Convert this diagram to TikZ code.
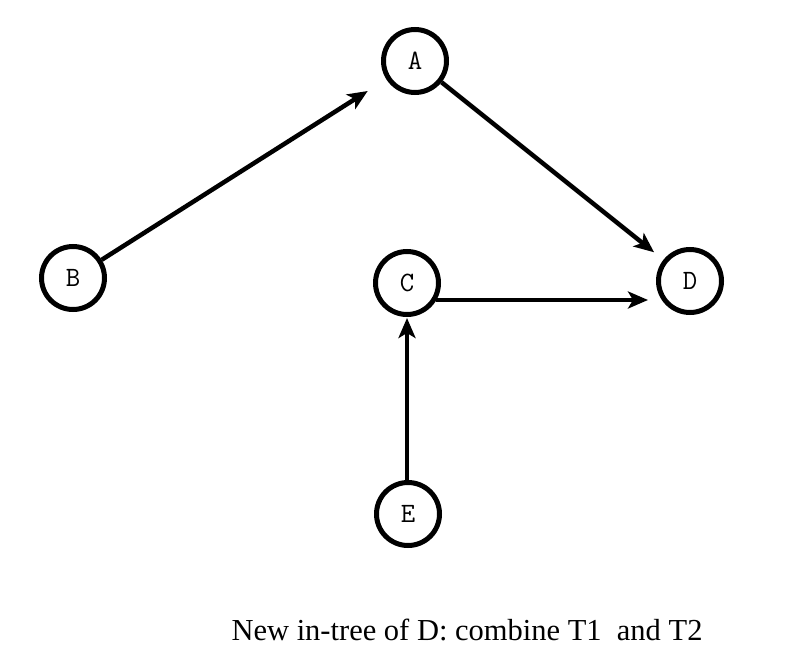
\documentclass[tikz,border=0pt]{standalone}
\usepackage{fontspec}
\setmainfont{Liberation Serif}
\usetikzlibrary{arrows.meta,calc}
\begin{document}
\begin{tikzpicture}[x=1pt,y=-1pt,
  vertex/.style={circle,draw,line width=5pt,minimum size=63pt,inner sep=0pt,font=\ttfamily\fontsize{28}{28}\selectfont},
  edge/.style={line width=4.5pt,-{Stealth[length=20pt,width=17pt,inset=5pt]}}]
\useasboundingbox (0,0) rectangle (792,669);
\node[vertex] (A) at (415,61) {A};
\node[vertex] (B) at (73,278) {B};
\node[vertex] (C) at (407,283) {C};
\node[vertex] (D) at (690,281) {D};
\node[vertex] (E) at (408,514) {E};
\draw[edge,shorten >=22pt] (B) -- (A);
\draw[edge,shorten >=12pt] (A) -- (D);
\draw[edge] (C.-30) -- ($(C.-30 -| D.west)+(-8,0)$);
\draw[edge,shorten >=1pt] (E.north -| C.south) -- (C.south);
\node[font=\fontsize{30.5}{30.5}\selectfont,anchor=base] (cap) at (467,640) {New in-tree of D: combine T1\ \ and T2};
\end{tikzpicture}
\end{document}
